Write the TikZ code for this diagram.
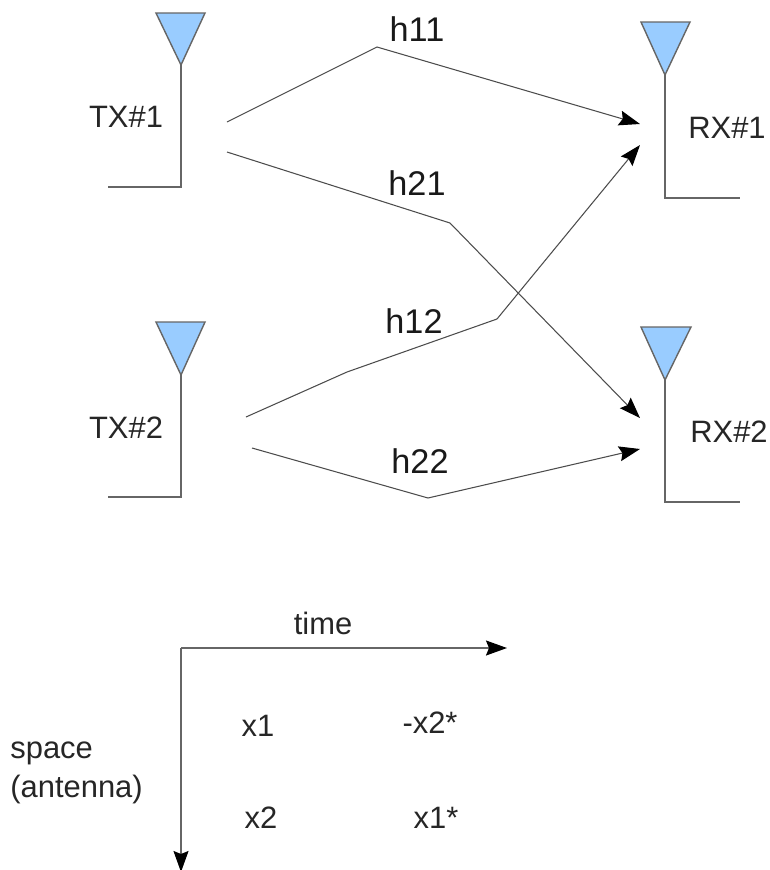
\documentclass[tikz,border=0pt]{standalone}
\usepackage{fontspec}
\setmainfont{Liberation Sans}
\usetikzlibrary{arrows.meta}
\definecolor{antblue}{HTML}{99CCFF}
\definecolor{linegray}{HTML}{666666}
\tikzset{
	antenna/.style={draw=linegray, fill=antblue, line width=0.8pt, line join=miter},
	stem/.style={draw=linegray, line width=0.9pt},
	channel/.style={draw=black!70, line width=0.6pt},
	arrowed/.style={-{Stealth[length=0.42cm, width=0.3cm, inset=0.06cm, black]}},
	biglabel/.style={font=\fontsize{19.5}{22}\selectfont, text=black!90, inner sep=0pt},
	smalllabel/.style={font=\fontsize{17.6}{22}\selectfont, text=black!85, inner sep=0pt}
}
\begin{document}
\begin{tikzpicture}[x=0.02cm, y=-0.02cm]
	\useasboundingbox (0,0) rectangle (769,870);

	% antennas
	\draw[antenna] (156,13) -- (205,13) -- (181,65) -- cycle;
	\draw[stem] (181,65) -- (181,187) -- (108,187);
	\draw[antenna] (156,322) -- (205,322) -- (181,375) -- cycle;
	\draw[stem] (181,375) -- (181,497) -- (108,497);
	\draw[antenna] (641,22) -- (690,22) -- (665,75) -- cycle;
	\draw[stem] (665,75) -- (665,198) -- (740,198);
	\draw[antenna] (641,327) -- (691,327) -- (665,380) -- cycle;
	\draw[stem] (665,380) -- (665,502) -- (740,502);

	\node[smalllabel] (tx1) at (126,117) {TX\#1};
	\node[smalllabel] (tx2) at (126,428) {TX\#2};
	\node[smalllabel] (rx1) at (727,128) {RX\#1};
	\node[smalllabel] (rx2) at (729,432) {RX\#2};

	% channels
	\coordinate (h11a) at (227,122);
	\coordinate (h11b) at (377,47);
	\coordinate (h11c) at (640,124);
	\coordinate (h21a) at (227,152);
	\coordinate (h21b) at (450,223);
	\coordinate (h21c) at (640,418);
	\coordinate (h12a) at (246,417);
	\coordinate (h12b) at (347,372);
	\coordinate (h12c) at (497,319);
	\coordinate (h12d) at (640,145);
	\coordinate (h22a) at (252,448);
	\coordinate (h22b) at (428,498);
	\coordinate (h22c) at (640,449);
	\draw[channel, arrowed] (h11a) -- (h11b) -- (h11c);
	\draw[channel, arrowed] (h21a) -- (h21b) -- (h21c);
	\draw[channel, arrowed] (h12a) -- (h12b) -- (h12c) -- (h12d);
	\draw[channel, arrowed] (h22a) -- (h22b) -- (h22c);

	\node[biglabel] (h11) at (417,29) {h11};
	\node[biglabel] (h21) at (417,183) {h21};
	\node[biglabel] (h12) at (414,321) {h12};
	\node[biglabel] (h22) at (420,461) {h22};

	% time and space axes
	\coordinate (origin) at (181,648);
	\coordinate (timeend) at (507,648);
	\coordinate (spaceend) at (181,872);
	\draw[stem, arrowed] (origin) -- (timeend);
	\draw[stem, arrowed] (origin) -- (spaceend);

	\node[smalllabel] (time) at (323,623) {time};
	\node[smalllabel, align=left, anchor=west] (space) at (10,773) {space\\(antenna)};
	\node[smalllabel] (x11) at (258,726) {x1};
	\node[smalllabel] (x12) at (430,723) {-x2*};
	\node[smalllabel] (x21) at (261,818) {x2};
	\node[smalllabel] (x22) at (436,818) {x1*};
\end{tikzpicture}
\end{document}
